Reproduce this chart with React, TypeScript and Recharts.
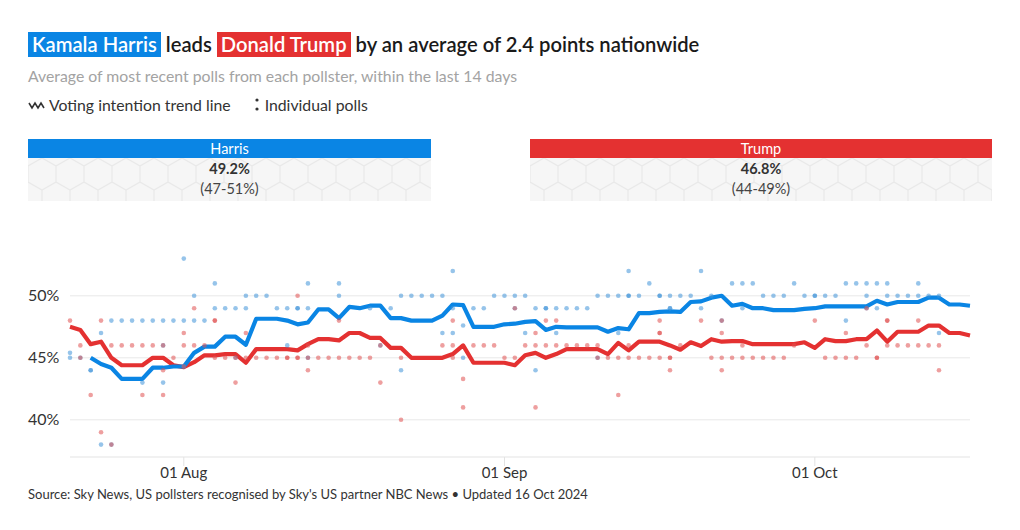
import React from "react";
import { ComposedChart, Line, Scatter, XAxis, YAxis, ReferenceLine } from "recharts";

// day index 0 = 21 Jul 2024, last = 16 Oct 2024
const tickDays = [11, 42, 72];
const tickLabels = ["01 Aug", "01 Sep", "01 Oct"];
const yTicks = [40, 45, 50];

// trend lines, one value per day
const harrisTrend = [
  null, null, 45.0, 44.5, 44.2, 43.3, 43.3, 43.3, 44.2, 44.2,
  44.3, 44.3, 45.4, 45.9, 45.9, 46.7, 46.7, 46.05, 48.15, 48.15,
  48.15, 48.0, 47.7, 47.85, 48.9, 48.9, 48.2, 49.1, 49.0, 49.2,
  49.2, 48.2, 48.2, 48.0, 48.0, 48.0, 48.4, 49.3, 49.25, 47.5,
  47.5, 47.5, 47.7, 47.75, 47.9, 47.95, 47.25, 47.5, 47.45, 47.45,
  47.45, 47.45, 47.1, 47.4, 47.3, 48.6, 48.6, 48.7, 48.75, 48.7,
  49.5, 49.55, 49.85, 50.0, 49.2, 49.35, 49.0, 49.0, 48.85, 48.85,
  48.85, 48.95, 49.0, 49.15, 49.15, 49.15, 49.15, 49.15, 49.6, 49.3,
  49.5, 49.5, 49.5, 49.85, 49.85, 49.3, 49.3, 49.2,
];
const trumpTrend = [
  47.5, 47.25, 46.1, 46.3, 45.0, 44.4, 44.4, 44.4, 45.0, 45.0,
  44.4, 44.25, 44.65, 45.2, 45.2, 45.3, 45.3, 44.6, 45.7, 45.7,
  45.7, 45.7, 45.6, 46.1, 46.5, 46.5, 46.4, 47.0, 47.0, 46.6,
  46.6, 45.8, 45.8, 45.0, 45.0, 45.0, 45.0, 45.3, 46.0, 44.6,
  44.6, 44.6, 44.6, 44.4, 45.2, 45.4, 45.0, 45.3, 45.7, 45.7,
  45.7, 45.7, 45.3, 46.2, 45.6, 46.3, 46.3, 46.3, 46.0, 45.65,
  46.25, 45.95, 46.5, 46.3, 46.35, 46.35, 46.1, 46.1, 46.1, 46.1,
  46.1, 46.25, 45.8, 46.5, 46.35, 46.35, 46.5, 46.5, 47.2, 46.3,
  47.1, 47.1, 47.1, 47.6, 47.6, 47.0, 47.0, 46.8,
];

// individual polls: [day, value]
const harrisPolls = [
  [0, 45.4], [0, 45], [1, 45], [2, 44], [2, 44], [3, 47], [3, 38], [4, 48], [4, 38],
  [5, 48], [6, 48], [7, 48], [7, 43], [8, 48], [9, 48], [9, 46], [9, 43], [10, 48],
  [11, 53], [11, 48], [11, 44.3], [12, 50], [12, 48], [13, 48], [14, 51], [14, 49],
  [15, 49], [16, 49], [16, 45], [17, 50], [17, 49], [18, 50], [19, 50], [20, 49],
  [21, 49], [21, 46], [22, 49], [22, 49], [23, 51], [23, 49], [23, 45], [26, 51], [26, 50],
  [29, 49], [30, 46], [31, 49], [32, 50], [32, 44], [33, 50], [34, 50], [35, 50],
  [36, 50], [36, 47], [37, 52], [37, 49], [37, 47], [38, 47.6], [38, 45], [39, 49], [40, 49],
  [41, 50], [42, 50], [43, 50], [43, 49], [44, 50], [44, 47], [45, 49], [45, 44],
  [46, 49], [46, 49], [47, 49], [47, 47], [48, 49], [49, 49], [50, 49], [51, 50], [51, 45],
  [52, 50], [53, 50], [53, 47], [54, 52], [54, 50], [54, 50], [55, 50], [56, 51],
  [57, 50], [57, 50], [58, 50], [58, 49], [58, 49], [59, 50], [60, 50], [61, 52], [61, 49],
  [62, 50], [63, 48], [64, 51], [65, 51], [65, 49], [66, 51], [67, 50], [68, 50], [69, 50],
  [70, 51], [71, 50], [72, 50], [72, 50], [73, 50], [74, 50], [75, 51], [75, 48], [76, 51],
  [77, 51], [77, 50], [77, 49], [78, 51], [78, 49], [79, 51], [79, 50], [80, 50], [81, 50],
  [82, 51], [82, 50], [83, 50], [84, 50], [84, 47],
];
const trumpPolls = [
  [0, 48], [1, 46], [1, 45], [2, 42], [3, 48], [3, 39], [4, 46], [4, 38], [5, 46], [6, 46],
  [7, 46], [7, 42], [8, 46], [9, 46], [9, 44], [9, 42], [10, 45], [11, 47], [11, 46], [11, 44.3],
  [12, 49], [12, 46], [13, 46], [14, 48], [14, 48], [14, 45], [15, 45], [16, 45], [16, 43],
  [17, 47], [17, 45], [18, 45], [19, 45], [20, 45], [21, 45], [21, 45], [22, 50], [22, 45], [22, 45],
  [23, 46], [23, 45], [23, 44], [24, 45], [25, 45], [26, 48], [26, 45], [27, 45], [28, 45], [29, 45],
  [30, 46], [30, 43], [32, 45], [32, 40], [36, 46], [37, 48], [37, 46], [37, 45], [38, 43.3], [38, 41],
  [39, 46], [40, 46], [41, 46], [42, 45], [43, 49], [43, 45], [44, 46], [45, 47], [45, 46], [45, 41],
  [46, 48], [46, 46], [47, 48], [47, 46], [48, 46], [49, 46], [50, 46], [51, 46], [51, 45],
  [52, 45], [53, 45], [53, 42], [54, 46], [54, 45], [55, 45], [56, 45], [57, 48], [57, 47], [57, 47],
  [57, 45], [58, 45], [58, 45], [58, 44], [59, 46], [61, 48], [62, 45], [63, 48], [63, 47], [63, 45],
  [63, 44], [64, 45], [65, 46], [65, 45], [66, 45], [67, 45], [68, 45], [69, 45], [70, 46], [72, 48],
  [73, 45], [74, 45], [75, 47], [75, 45], [76, 45], [77, 46], [77, 49], [78, 45], [78, 45],
  [79, 48], [79, 48], [79, 46], [80, 46], [81, 46], [82, 48], [82, 46], [83, 46], [84, 46], [84, 44],
];

const BLUE = "#0a85e4";
const RED = "#e43131";
const FONT = "Lato, 'Open Sans', sans-serif";

const trend = harrisTrend.map((h, i) => ({ d: i, harris: h, trump: trumpTrend[i] }));
const harrisPollData = harrisPolls.map(([d, v]) => ({ d, v }));
const trumpPollData = trumpPolls.map(([d, v]) => ({ d, v }));

function XTick(props: any) {
  const { x, y, payload } = props;
  const i = tickDays.indexOf(payload.value);
  return (
    <text x={x} y={y} dy={10} textAnchor="middle" fontSize={15} fill="#333" fontFamily={FONT}>
      {tickLabels[i]}
    </text>
  );
}

function YTick(props: any) {
  const { y, payload } = props;
  return (
    <text x={28} y={y} dy={5.5} textAnchor="start" fontSize={16} fill="#333" fontFamily={FONT}>
      {payload.value}%
    </text>
  );
}

const dot = (color: string) => (p: any) => (
  <circle cx={p.cx} cy={p.cy} r={2.3} fill={color} fillOpacity={0.55} />
);

function HexBox(props: { left: number; width: number; color: string; name: string; value: string; range: string }) {
  const { left, width, color, name, value, range } = props;
  return (
    <div style={{ position: "absolute", left, top: 139, width, height: 62 }}>
      <div style={{ height: 19, background: color, color: "#fff", fontSize: 14.5, lineHeight: "19px", textAlign: "center" }}>
        {name}
      </div>
      <svg width={width} height={43} style={{ position: "absolute", left: 0, top: 19 }}>
        <defs>
          <pattern id={"hex" + name} width={28} height={48} patternUnits="userSpaceOnUse">
            <rect width={28} height={48} fill="#f6f6f6" />
            <path d="M14,0 L28,8 L28,24 L14,32 L0,24 L0,8 Z M14,32 L14,48" fill="none" stroke="#e9e9e9" strokeWidth={1.2} />
          </pattern>
        </defs>
        <rect width={width} height={43} fill={`url(#hex${name})`} />
      </svg>
      <div style={{ position: "absolute", top: 21, width: "100%", textAlign: "center", fontSize: 14.5, fontWeight: 700, color: "#333" }}>
        {value}
      </div>
      <div style={{ position: "absolute", top: 41, width: "100%", textAlign: "center", fontSize: 14.5, color: "#444" }}>
        {range}
      </div>
    </div>
  );
}

export default function App() {
  return (
    <div style={{ position: "absolute", left: 0, top: 0, width: 1020, height: 530, background: "#fff", fontFamily: FONT }}>
      <div style={{ position: "absolute", left: 28, top: 32, height: 25, lineHeight: "25px", fontSize: 20.2, fontWeight: 600, color: "#1a1a1a", whiteSpace: "nowrap" }}>
        <span style={{ background: BLUE, color: "#fff", padding: "0 4px", display: "inline-block" }}>Kamala Harris</span>
        {" leads "}
        <span style={{ background: RED, color: "#fff", padding: "0 4px", display: "inline-block" }}>Donald Trump</span>
        {" by an average of 2.4 points nationwide"}
      </div>
      <div style={{ position: "absolute", left: 28, top: 66, fontSize: 15.8, color: "#a3a3a3", whiteSpace: "nowrap" }}>
        Average of most recent polls from each pollster, within the last 14 days
      </div>
      <div style={{ position: "absolute", left: 28, top: 95, fontSize: 15.8, color: "#333", whiteSpace: "nowrap", display: "flex", alignItems: "center" }}>
        <svg width={18} height={10} style={{ marginRight: 3 }}>
          <polyline points="1,3 4,8 7,3 10,8 13,3 16,8" fill="none" stroke="#333" strokeWidth={1.6} />
        </svg>
        <span>Voting intention trend line</span>
        <svg width={10} height={16} style={{ marginLeft: 21, marginRight: 3 }}>
          <circle cx={5} cy={3} r={1.6} fill="#333" />
          <circle cx={5} cy={12} r={1.6} fill="#333" />
        </svg>
        <span>Individual polls</span>
      </div>

      <HexBox left={28} width={403} color={BLUE} name="Harris" value="49.2%" range="(47-51%)" />
      <HexBox left={530} width={462} color={RED} name="Trump" value="46.8%" range="(44-49%)" />

      <div style={{ position: "absolute", left: 0, top: 240 }}>
        <ComposedChart width={1020} height={270} data={trend} margin={{ top: 18.6, right: 50, bottom: 23, left: 0 }}>
          {yTicks.map((t) => (
            <ReferenceLine key={t} y={t} stroke="#e8e8e8" />
          ))}
          <XAxis
            dataKey="d"
            type="number"
            domain={[0, 87]}
            ticks={tickDays}
            tick={<XTick />}
            axisLine={{ stroke: "#e3e3e3" }}
            tickLine={{ stroke: "#e3e3e3" }}
            tickSize={9}
            height={30}
          />
          <YAxis type="number" domain={[37, 53]} ticks={yTicks} width={70} axisLine={false} tickLine={false} tick={<YTick />} />
          <Line dataKey="trump" stroke={RED} strokeWidth={4.2} dot={false} strokeLinejoin="round" isAnimationActive={false} />
          <Line dataKey="harris" stroke={BLUE} strokeWidth={4.2} dot={false} strokeLinejoin="round" isAnimationActive={false} />
          <Scatter data={harrisPollData} dataKey="v" shape={dot("#3f93d8")} isAnimationActive={false} />
          <Scatter data={trumpPollData} dataKey="v" shape={dot("#e05050")} isAnimationActive={false} />
        </ComposedChart>
      </div>

      <div style={{ position: "absolute", left: 28, top: 486, fontSize: 13, color: "#333", whiteSpace: "nowrap" }}>
        Source: Sky News, US pollsters recognised by Sky's US partner NBC News • Updated 16 Oct 2024
      </div>
    </div>
  );
}
